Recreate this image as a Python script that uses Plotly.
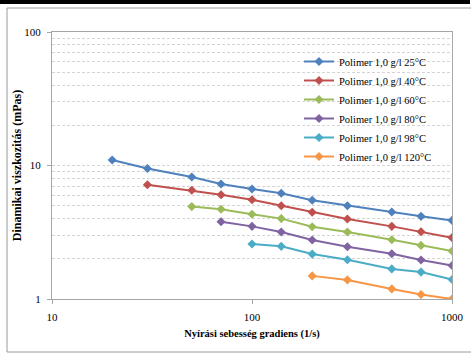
import plotly.graph_objects as go

# ---- data ----
shear_rates = [20, 30, 50, 70, 100, 140, 200, 300, 500, 700, 1000]
visc_25 = [11.0, 9.5, 8.2, 7.27, 6.67, 6.19, 5.49, 5.0, 4.48, 4.16, 3.88]
rates_40 = [30, 50, 70, 100, 140, 200, 300, 500, 700, 1000]
visc_40 = [7.18, 6.52, 6.04, 5.54, 5.0, 4.46, 3.97, 3.50, 3.19, 2.88]
rates_60 = [50, 70, 100, 140, 200, 300, 500, 700, 1000]
visc_60 = [4.92, 4.70, 4.31, 4.0, 3.48, 3.18, 2.78, 2.52, 2.29]
rates_80 = [70, 100, 140, 200, 300, 500, 700, 1000]
visc_80 = [3.79, 3.50, 3.18, 2.77, 2.46, 2.18, 1.96, 1.78]
rates_98 = [100, 140, 200, 300, 500, 700, 1000]
visc_98 = [2.58, 2.48, 2.17, 1.97, 1.68, 1.59, 1.40]
rates_120 = [200, 300, 500, 700, 1000]
visc_120 = [1.49, 1.39, 1.19, 1.08, 1.0]

series_names = ["Polimer 1,0 g/l 25°C", "Polimer 1,0 g/l 40°C", "Polimer 1,0 g/l 60°C",
                "Polimer 1,0 g/l 80°C", "Polimer 1,0 g/l 98°C", "Polimer 1,0 g/l 120°C"]
series_x = [shear_rates, rates_40, rates_60, rates_80, rates_98, rates_120]
series_y = [visc_25, visc_40, visc_60, visc_80, visc_98, visc_120]
colors = ["#4F81BD", "#C0504D", "#9BBB59", "#8064A2", "#4BACC6", "#F79646"]

x_ticks = [10, 100, 1000]
y_ticks = [1, 10, 100]
y_minor = [m * d for d in (1, 10) for m in range(2, 10)]

W, H = 472, 353
L, R, T, B = 52, 20, 32, 54
pw, ph = W - L - R, H - T - B
def px(x):
    return (x - L) / pw
def py(y):
    return (H - B - y) / ph

FONT = "Liberation Serif"

fig = go.Figure()
for name, xs, ys, c in zip(series_names, series_x, series_y, colors):
    fig.add_trace(go.Scatter(x=xs, y=ys, name=name, mode="lines+markers",
                             line=dict(color=c, width=2),
                             marker=dict(symbol="diamond", size=7, color=c)))

grid = dict(showgrid=True, gridcolor="#d4d4d4", griddash="3px,2px", gridwidth=1)
fig.update_layout(
    width=W, height=H,
    margin=dict(l=L, r=R, t=T, b=B, autoexpand=False),
    paper_bgcolor="white", plot_bgcolor="white",
    font=dict(family=FONT, size=11, color="black"),
    showlegend=True,
    legend=dict(x=px(299), y=py(47), xanchor="left", yanchor="top",
                bgcolor="rgba(0,0,0,0)", font=dict(family=FONT, size=10.5),
                itemwidth=30, tracegroupgap=0),
    xaxis=dict(type="log", range=[1, 3], tickvals=x_ticks, ticktext=[str(v) for v in x_ticks],
               automargin=False,
               showgrid=False, zeroline=False, showline=True, linecolor="#a6a6a6",
               mirror=True, ticks="outside", ticklen=4, tickcolor="#a6a6a6",
               ticklabelstandoff=4, tickfont=dict(size=11),
               title=dict(text="<b>Nyírási sebesség gradiens (1/s)</b>", standoff=7,
                          font=dict(size=10.5))),
    yaxis=dict(type="log", range=[0, 2], tickvals=y_ticks, ticktext=[str(v) for v in y_ticks],
               automargin=False,
               zeroline=False, showline=True, linecolor="#a6a6a6", mirror=True,
               ticks="outside", ticklen=4, tickcolor="#a6a6a6", tickfont=dict(size=11),
               ticklabelstandoff=4,
               minor=dict(tickvals=y_minor, ticks="", **grid),
               title=dict(text="<b>Dinamikai viszkozitás (mPas)</b>", standoff=0,
                          font=dict(size=12)),
               **grid),
)

# outer frame decorations
fig.add_shape(type="rect", xref="paper", yref="paper",
              x0=px(0), x1=px(470), y0=py(0), y1=py(4),
              fillcolor="black", line=dict(width=0), layer="above")
fig.add_shape(type="path", xref="paper", yref="paper",
              path=f"M {px(471)} {py(8)} L {px(7)} {py(8)} L {px(7)} {py(352)} L {px(471)} {py(352)}",
              line=dict(color="#9a9a9a", width=1))

fig.write_html("out.html", config={"displayModeBar": False},
               post_script="document.body.style.margin='0';")
